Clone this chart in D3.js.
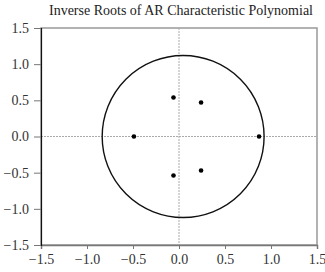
<!DOCTYPE html>
<html>
<head>
<meta charset="utf-8">
<script src="https://cdn.jsdelivr.net/npm/d3@7"></script>
<style>
  body { margin: 0; background: #fff; }
  text { font-family: "Liberation Serif", "DejaVu Serif", serif; }
</style>
</head>
<body>
<div id="chart"></div>
<script>
// inverse roots (real, imaginary)
var realParts = [-0.06, 0.24, -0.49, 0.87, -0.06, 0.24];
var imagParts = [0.54, 0.47, 0.0, 0.0, -0.54, -0.47];
var tickValues = [-1.5, -1.0, -0.5, 0.0, 0.5, 1.0, 1.5];
// unit circle as drawn (centre and radii in data units)
var circleCentre = [0.045, 0.0];
var circleRadii = [0.88, 1.12];

var width = 325;
var height = 272;
var margin = { top: 28, right: 8, bottom: 27, left: 41 };

var svg = d3.select('#chart')
	.append('svg')
	.attr('width', width)
	.attr('height', height);

var x_scale = d3.scaleLinear()
	.domain([-1.5, 1.5])
	.range([margin.left, width - margin.right]);
var y_scale = d3.scaleLinear()
	.domain([-1.5, 1.5])
	.range([height - margin.bottom, margin.top]);

// title
svg.append('text')
	.attr('x', 181)
	.attr('y', 15)
	.attr('text-anchor', 'middle')
	.attr('font-size', 14)
	.attr('fill', '#222')
	.text('Inverse Roots of AR Characteristic Polynomial');

// frame (top / right)
svg.append('rect')
	.attr('x', x_scale(-1.5))
	.attr('y', y_scale(1.5))
	.attr('width', x_scale(1.5) - x_scale(-1.5))
	.attr('height', y_scale(-1.5) - y_scale(1.5))
	.attr('fill', 'none')
	.attr('stroke', '#999')
	.attr('stroke-width', 1.5);

// zero lines
svg.append('line')
	.attr('x1', x_scale(-1.5)).attr('x2', x_scale(1.5))
	.attr('y1', y_scale(0)).attr('y2', y_scale(0))
	.attr('stroke', '#aaa')
	.attr('stroke-dasharray', '2,1');
svg.append('line')
	.attr('x1', x_scale(0)).attr('x2', x_scale(0))
	.attr('y1', y_scale(1.5)).attr('y2', y_scale(-1.5))
	.attr('stroke', '#aaa')
	.attr('stroke-dasharray', '2,1');

// axes
var x_axis = d3.axisBottom(x_scale)
	.tickValues(tickValues)
	.tickFormat(d3.format('.1f'))
	.tickSizeOuter(0)
	.tickSize(4);
var y_axis = d3.axisLeft(y_scale)
	.tickValues(tickValues)
	.tickFormat(d3.format('.1f'))
	.tickSizeOuter(0)
	.tickSize(7);

var gx = svg.append('g')
	.attr('transform', 'translate(0,' + y_scale(-1.5) + ')')
	.call(x_axis);
gx.select('.domain').attr('stroke', '#777').attr('stroke-width', 1.5);
gx.selectAll('.tick line').attr('stroke', '#777');
gx.selectAll('.tick text')
	.attr('dy', '0.85em')
	.attr('font-size', 14)
	.attr('font-family', '"Liberation Serif", serif')
	.attr('fill', '#333');

var gy = svg.append('g')
	.attr('transform', 'translate(' + x_scale(-1.5) + ',0)')
	.call(y_axis);
gy.select('.domain').attr('stroke', '#111').attr('stroke-width', 1.2);
gy.selectAll('.tick line').attr('stroke', '#777');
gy.selectAll('.tick text')
	.attr('x', -12)
	.attr('font-size', 14)
	.attr('font-family', '"Liberation Serif", serif')
	.attr('fill', '#333');

// unit circle
svg.append('ellipse')
	.attr('cx', x_scale(circleCentre[0]))
	.attr('cy', y_scale(circleCentre[1]))
	.attr('rx', x_scale(circleRadii[0]) - x_scale(0))
	.attr('ry', y_scale(0) - y_scale(circleRadii[1]))
	.attr('fill', 'none')
	.attr('stroke', '#111')
	.attr('stroke-width', 1.4);

// roots
svg.selectAll('circle.root')
	.data(realParts)
	.enter()
	.append('circle')
	.attr('class', 'root')
	.attr('cx', function (d) {
		return x_scale(d);
	})
	.attr('cy', function (d, i) {
		return y_scale(imagParts[i]);
	})
	.attr('r', 2.3)
	.attr('fill', '#000');
</script>
</body>
</html>
